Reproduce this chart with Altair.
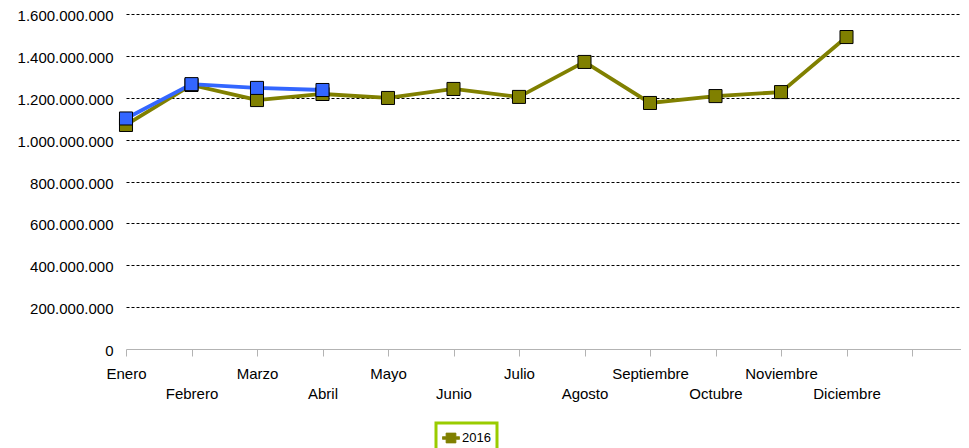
import altair as alt
import pandas as pd
import json

months = ["Enero", "Febrero", "Marzo", "Abril", "Mayo", "Junio", "Julio",
          "Agosto", "Septiembre", "Octubre", "Noviembre", "Diciembre"]
values_2016 = [1.070e9, 1.261e9, 1.189e9, 1.218e9, 1.199e9, 1.242e9,
               1.204e9, 1.371e9, 1.175e9, 1.208e9, 1.227e9, 1.490e9]
values_2017 = [1.101e9, 1.265e9, 1.247e9, 1.237e9]
series_names = ["2016", "2017"]
series_colors = ["#808000", "#3366ff"]
y_ticks = [0, 200_000_000, 400_000_000, 600_000_000, 800_000_000,
           1_000_000_000, 1_200_000_000, 1_400_000_000, 1_600_000_000]

rows = []
for i, v in enumerate(values_2016):
    rows.append({"idx": i, "month": months[i], "value": v, "series": "2016"})
for i, v in enumerate(values_2017):
    rows.append({"idx": i, "month": months[i], "value": v, "series": "2017"})
df = pd.DataFrame(rows)

months_js = json.dumps(months)
x_label_expr = (
    f"datum.value < {len(months)} ? "
    f"(datum.value % 2 == 0 ? {months_js}[datum.value] : ['', {months_js}[datum.value]]) : ''"
)
y_label_expr = "replace(format(datum.value, ','), regexp(',', 'g'), '.')"

FONT = "Liberation Sans"

# legend symbol: square marker with a short line through it
legend_symbol = ("M-1,-0.16H-0.58V-0.58H0.58V-0.16H1V0.16H0.58V0.58"
                 "H-0.58V0.16H-1Z")

x_enc = alt.X(
    "idx:Q",
    title=None,
    scale=alt.Scale(domain=[0, 12.748], nice=False, zero=False),
    axis=alt.Axis(
        values=list(range(13)),
        labelExpr=x_label_expr,
        labelOverlap=False,
        labelFlush=False,
        labelBound=False,
        labelAlign="center",
        labelBaseline="top",
        labelLineHeight=20,
        labelPadding=10,
        labelFontSize=15,
        labelFont=FONT,
        labelColor="#000000",
        grid=False,
        domainColor="#b3b3b3",
        domainWidth=1,
        tickColor="#b3b3b3",
        tickSize=7,
        tickWidth=1,
    ),
)

y_enc = alt.Y(
    "value:Q",
    title=None,
    scale=alt.Scale(domain=[0, 1.6e9], nice=False),
    axis=alt.Axis(
        values=y_ticks,
        labelExpr=y_label_expr,
        labelFontSize=15,
        labelFont=FONT,
        labelColor="#000000",
        labelPadding=13,
        labelBaseline="middle",
        labelOffset=1.5,
        ticks=False,
        domain=False,
        grid=True,
        gridColor="#000000",
        gridDash=[3, 2],
        gridWidth=1,
        gridOpacity=alt.condition("datum.value == 0", alt.value(0), alt.value(1)),
    ),
)

color_enc = alt.Color(
    "series:N",
    scale=alt.Scale(domain=series_names, range=series_colors),
    legend=alt.Legend(
        values=["2016"],
        title=None,
        orient="none",
        legendX=310,
        legendY=409,
        symbolType=legend_symbol,
        symbolSize=289,
        symbolFillColor=series_colors[0],
        symbolStrokeColor="#000000",
        symbolStrokeWidth=0.8,
        labelFontSize=13,
        labelFont=FONT,
        labelColor="#000000",
        labelOffset=2,
        strokeColor="#99cc00",
        padding=6,
    ),
)

base = alt.Chart(df).encode(x=x_enc, y=y_enc, color=color_enc, detail="series:N")

lines = base.mark_line(strokeWidth=3.8)
points = base.mark_point(shape="square", filled=True, size=170, stroke="#000000",
                         strokeWidth=1, opacity=1)

chart = alt.layer(lines, points).properties(
    width=835,
    height=335,
    autosize="none",
    padding={"left": 118, "top": 6, "right": 0, "bottom": 99},
    background="#ffffff",
).configure_view(stroke=None).configure_legend(strokeWidth=3)

chart.save("out.html", embed_options={"renderer": "svg", "actions": False})
